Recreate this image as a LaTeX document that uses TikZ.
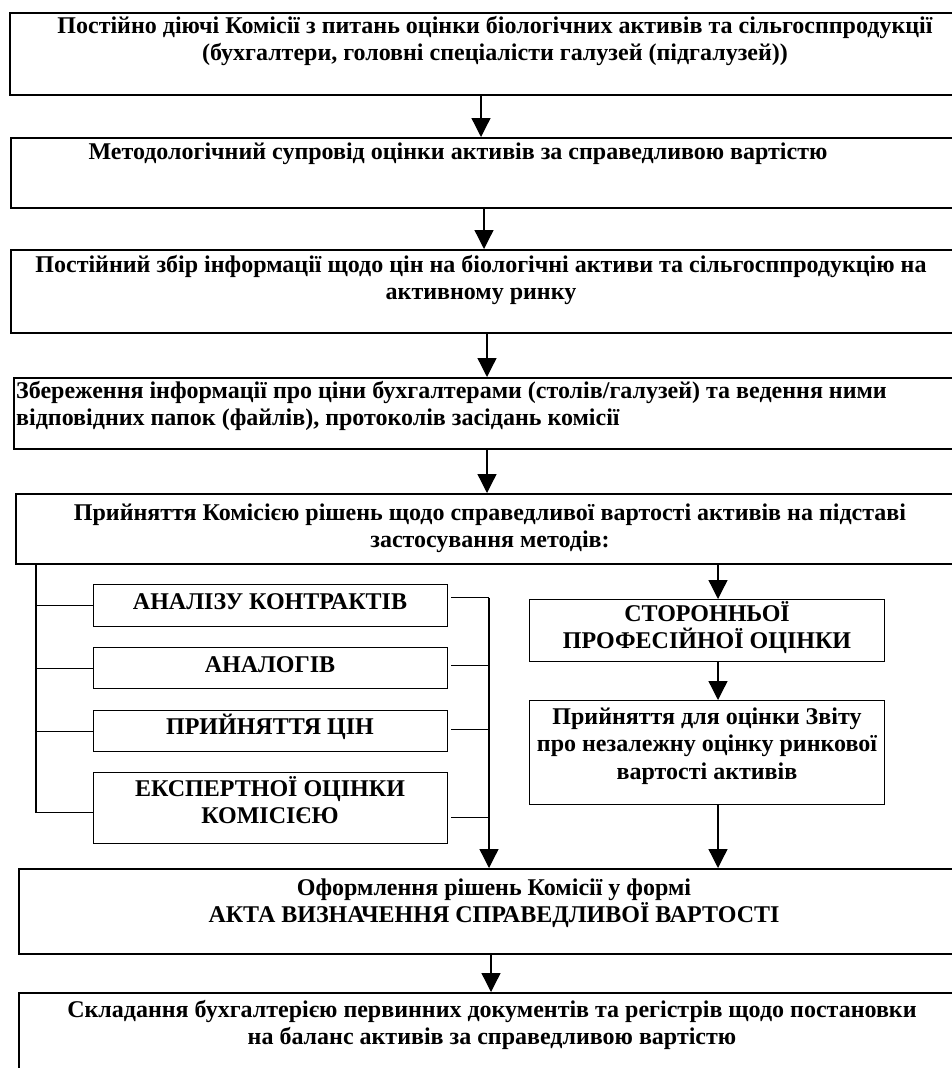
\documentclass[tikz,border=0pt]{standalone}
\usepackage{fontspec}
\setmainfont{Liberation Serif}
\usetikzlibrary{arrows.meta}

\tikzset{
  frame/.style={draw, rectangle, line width=1.5pt, inner sep=0pt, anchor=north west},
  subframe/.style={draw, rectangle, line width=1.4pt, inner sep=0pt, anchor=north west},
  % multi-line texts are placed by the baseline of their last line
  boxtext/.style={inner sep=0pt, align=center, anchor=base,
    font=\fontsize{24}{27.6}\selectfont\bfseries},
  conn/.style={line width=1.3pt},
  arr/.style={conn, -{Triangle[width=19pt,length=19pt]}},
}

\begin{document}
\begin{tikzpicture}[x=1pt,y=-1pt]
\clip (0,0) rectangle (952,1068);
\fill[white] (0,0) rectangle (952,1068);

% main column of boxes (their right edges run off the page)
\node[frame, minimum width=966pt, minimum height=82pt] (b1) at (9,12) {};
\node[frame, minimum width=965pt, minimum height=70pt] (b2) at (10,137) {};
\node[frame, minimum width=965pt, minimum height=83pt] (b3) at (10,249) {};
\node[frame, minimum width=962pt, minimum height=71pt] (b4) at (13,377) {};
\node[frame, minimum width=960pt, minimum height=70pt] (b5) at (15,493) {};
\node[frame, minimum width=957pt, minimum height=85pt] (b6) at (18,868) {};
\node[frame, minimum width=957pt, minimum height=130pt] (b7) at (18,992) {};

\node[boxtext] (t1) at (495,60.6) {Постійно діючі Комісії з питань оцінки біологічних активів та сільгосппродукції\\(бухгалтери, головні спеціалісти галузей (підгалузей))};
\node[boxtext] (t2) at (458,159) {Методологічний супровід оцінки активів за справедливою вартістю};
\node[boxtext] (t3) at (481,299.6) {Постійний збір інформації щодо цін на біологічні активи та сільгосппродукцію на\\активному ринку};
\node[boxtext, align=left, anchor=base west] (t4) at (16,425.6) {Збереження інформації про ціни бухгалтерами (столів/галузей) та ведення ними\\відповідних папок (файлів), протоколів засідань комісії};
\node[boxtext] (t5) at (490,547.6) {Прийняття Комісією рішень щодо справедливої вартості активів на підставі\\застосування методів:};
\node[boxtext] (t6) at (494,922.6) {Оформлення рішень Комісії у формі\\АКТА ВИЗНАЧЕННЯ СПРАВЕДЛИВОЇ ВАРТОСТІ};
\node[boxtext] (t7) at (492,1044.6) {Складання бухгалтерією первинних документів та регістрів щодо постановки\\на баланс активів за справедливою вартістю};

% methods
\node[subframe, minimum width=354pt, minimum height=42pt] (sa) at (93,584) {};
\node[subframe, minimum width=354pt, minimum height=41pt] (sb) at (93,647) {};
\node[subframe, minimum width=354pt, minimum height=41pt] (sc) at (93,710) {};
\node[subframe, minimum width=354pt, minimum height=71pt] (sd) at (93,772) {};
\node[subframe, minimum width=355pt, minimum height=62pt] (se) at (529,599) {};
\node[subframe, minimum width=355pt, minimum height=104pt] (sf) at (529,700) {};

\node[boxtext] (ta) at (270,609) {АНАЛІЗУ КОНТРАКТІВ};
\node[boxtext] (tb) at (270,672) {АНАЛОГІВ};
\node[boxtext] (tc) at (270,734) {ПРИЙНЯТТЯ ЦІН};
\node[boxtext] (td) at (270,823.6) {ЕКСПЕРТНОЇ ОЦІНКИ\\КОМІСІЄЮ};
\node[boxtext] (te) at (707,648.6) {СТОРОННЬОЇ\\ПРОФЕСІЙНОЇ ОЦІНКИ};
\node[boxtext] (tf) at (707,779.2) {Прийняття для оцінки Звіту\\про незалежну оцінку ринкової\\вартості активів};

% columns used by the connectors
\coordinate (ax1) at (481,0);
\coordinate (ax2) at (484,0);
\coordinate (ax3) at (487,0);
\coordinate (ax4) at (487,0);
\coordinate (ax6) at (491,0);
\coordinate (colL) at (36,0);
\coordinate (colR) at (489,0);
\coordinate (colE) at (718,0);

% main flow
\draw[arr] (b1.south -| ax1) -- (b2.north -| ax1);
\draw[arr] (b2.south -| ax2) -- (b3.north -| ax2);
\draw[arr] (b3.south -| ax3) -- (b4.north -| ax3);
\draw[arr] (b4.south -| ax4) -- (b5.north -| ax4);
\draw[arr] (b6.south -| ax6) -- (b7.north -| ax6);

% left bracket feeding the four methods
\coordinate (dl) at ([yshift=-4.5pt]sd.west);
\draw[conn] (b5.south -| colL) |- (dl);
\draw[conn] (colL |- sa.west) -- (sa.west);
\draw[conn] (colL |- sb.west) -- (sb.west);
\draw[conn] (colL |- sc.west) -- (sc.west);

% right collector into the act
\coordinate (ra) at ([xshift=3pt,yshift=8pt]sa.east);
\coordinate (rb) at ([xshift=3pt,yshift=2.5pt]sb.east);
\coordinate (rc) at ([xshift=3pt,yshift=1.5pt]sc.east);
\coordinate (rd) at ([xshift=3pt,yshift=-9.5pt]sd.east);
\draw[conn] (ra) -- (ra -| colR);
\draw[conn] (rb) -- (rb -| colR);
\draw[conn] (rc) -- (rc -| colR);
\draw[conn] (rd) -- (rd -| colR);
\draw[arr] (ra -| colR) -- (b6.north -| colR);

% external appraisal branch
\draw[arr] (b5.south -| colE) -- (se.north -| colE);
\draw[arr] (se.south -| colE) -- (sf.north -| colE);
\draw[arr] (sf.south -| colE) -- (b6.north -| colE);
\end{tikzpicture}
\end{document}
